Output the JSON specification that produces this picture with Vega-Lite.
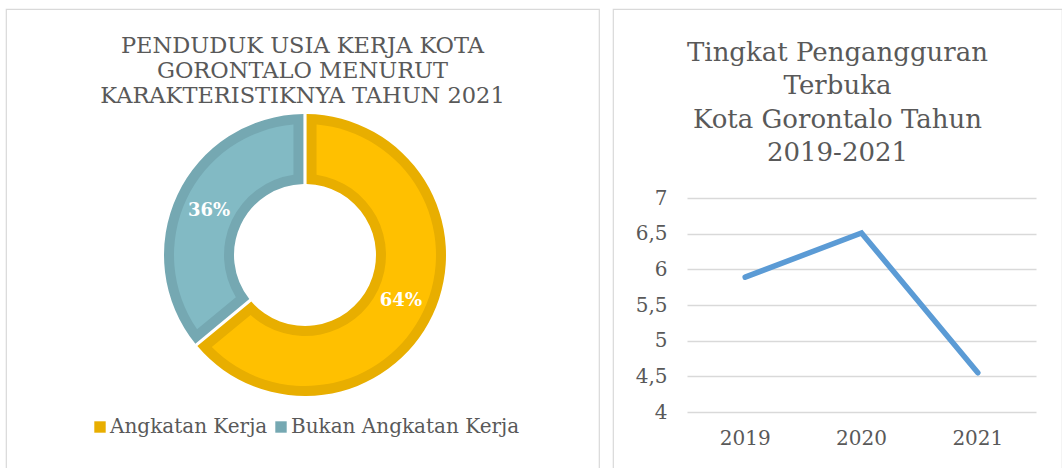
{
  "$schema": "https://vega.github.io/schema/vega-lite/v6.json",
  "background": "white",
  "padding": {"left": 5, "top": 8, "right": 0, "bottom": 0},
  "spacing": 12,
  "config": {
    "view": {"stroke": "#D9D9D9", "strokeWidth": 1.2},
    "font": "DejaVu Serif, Liberation Serif, serif",
    "title": {"color": "#595959", "fontWeight": "normal", "font": "DejaVu Serif, Liberation Serif, serif", "anchor": "middle"},
    "axis": {"labelFont": "DejaVu Serif, Liberation Serif, serif", "labelColor": "#595959", "labelFontSize": 20},
    "legend": {"labelFont": "DejaVu Serif, Liberation Serif, serif", "labelColor": "#595959", "labelFontSize": 20}
  },
  "hconcat": [
    {
      "width": 593,
      "height": 460,
      "view": {"stroke": "#D9D9D9", "strokeWidth": 1.2},
      "title": {
        "text": ["PENDUDUK USIA KERJA KOTA", "GORONTALO MENURUT", "KARAKTERISTIKNYA TAHUN 2021"],
        "fontSize": 22.5,
        "lineHeight": 25,
        "offset": -98
      },
      "data": {"values": [
        {"kategori": "Angkatan Kerja", "persen": 0.64},
        {"kategori": "Bukan Angkatan Kerja", "persen": 0.36}
      ]},
      "layer": [
        {
          "mark": {"type": "arc", "outerRadius": 141, "innerRadius": 71, "padAngle": 0.02,
                   "xOffset": 2.5, "yOffset": 16},
          "encoding": {
            "theta": {"field": "persen", "type": "quantitative", "stack": true},
            "order": {"field": "kategori", "sort": "ascending"},
            "color": {
              "field": "kategori", "type": "nominal",
              "scale": {"domain": ["Angkatan Kerja", "Bukan Angkatan Kerja"], "range": ["#E8AE00", "#75A8B2"]},
              "legend": {
                "title": null, "orient": "none", "legendX": 84, "legendY": 408,
                "direction": "horizontal", "symbolType": "square", "symbolSize": 130,
                "symbolStrokeWidth": 0, "labelLimit": 400, "labelOffset": 0, "columnPadding": 3
              }
            }
          }
        },
        {
          "mark": {"type": "arc", "outerRadius": 131, "innerRadius": 81, "padAngle": 0.15,
                   "xOffset": 2.5, "yOffset": 16},
          "encoding": {
            "theta": {"field": "persen", "type": "quantitative", "stack": true},
            "order": {"field": "kategori", "sort": "ascending"},
            "fill": {
              "field": "kategori", "type": "nominal",
              "scale": {"domain": ["Angkatan Kerja", "Bukan Angkatan Kerja"], "range": ["#FFC000", "#82BAC4"]},
              "legend": null
            }
          }
        },
        {
          "mark": {"type": "text", "radius": 106, "fill": "white", "fontWeight": "bold", "fontSize": 18,
                   "xOffset": 2.5, "yOffset": 17},
          "encoding": {
            "theta": {"field": "persen", "type": "quantitative", "stack": true},
            "order": {"field": "kategori", "sort": "ascending"},
            "detail": {"field": "kategori", "type": "nominal"},
            "text": {"field": "persen", "type": "quantitative", "format": ".0%"}
          }
        }
      ]
    },
    {
      "width": 449,
      "height": 460,
      "title": {
        "text": ["Tingkat Pengangguran", "Terbuka", "Kota Gorontalo Tahun", "2019-2021"],
        "fontSize": 26,
        "lineHeight": 33.5,
        "offset": -157
      },
      "data": {"values": [
        {"tahun": "2019", "tpt": 5.89},
        {"tahun": "2020", "tpt": 6.51},
        {"tahun": "2021", "tpt": 4.55}
      ]},
      "mark": {"type": "line", "color": "#5B9BD5", "strokeWidth": 5.5, "strokeCap": "round"},
      "encoding": {
        "x": {
          "field": "tahun", "type": "ordinal",
          "scale": {"type": "band", "range": [74, 423], "paddingInner": 0, "paddingOuter": 0},
          "axis": {"title": null, "offset": -57, "domain": false, "ticks": false, "labelPadding": 16,
                   "labelAngle": 0, "grid": false}
        },
        "y": {
          "field": "tpt", "type": "quantitative",
          "scale": {"domain": [4, 7], "range": [403, 189], "nice": false, "zero": false},
          "axis": {"title": null, "values": [4, 4.5, 5, 5.5, 6, 6.5, 7],
                   "labelExpr": "replace(format(datum.value, '~g'), '.', ',')",
                   "offset": -74, "domain": false, "ticks": false, "labelPadding": 20,
                   "grid": true, "gridColor": "#D9D9D9", "gridWidth": 1.5}
        }
      }
    }
  ]
}
